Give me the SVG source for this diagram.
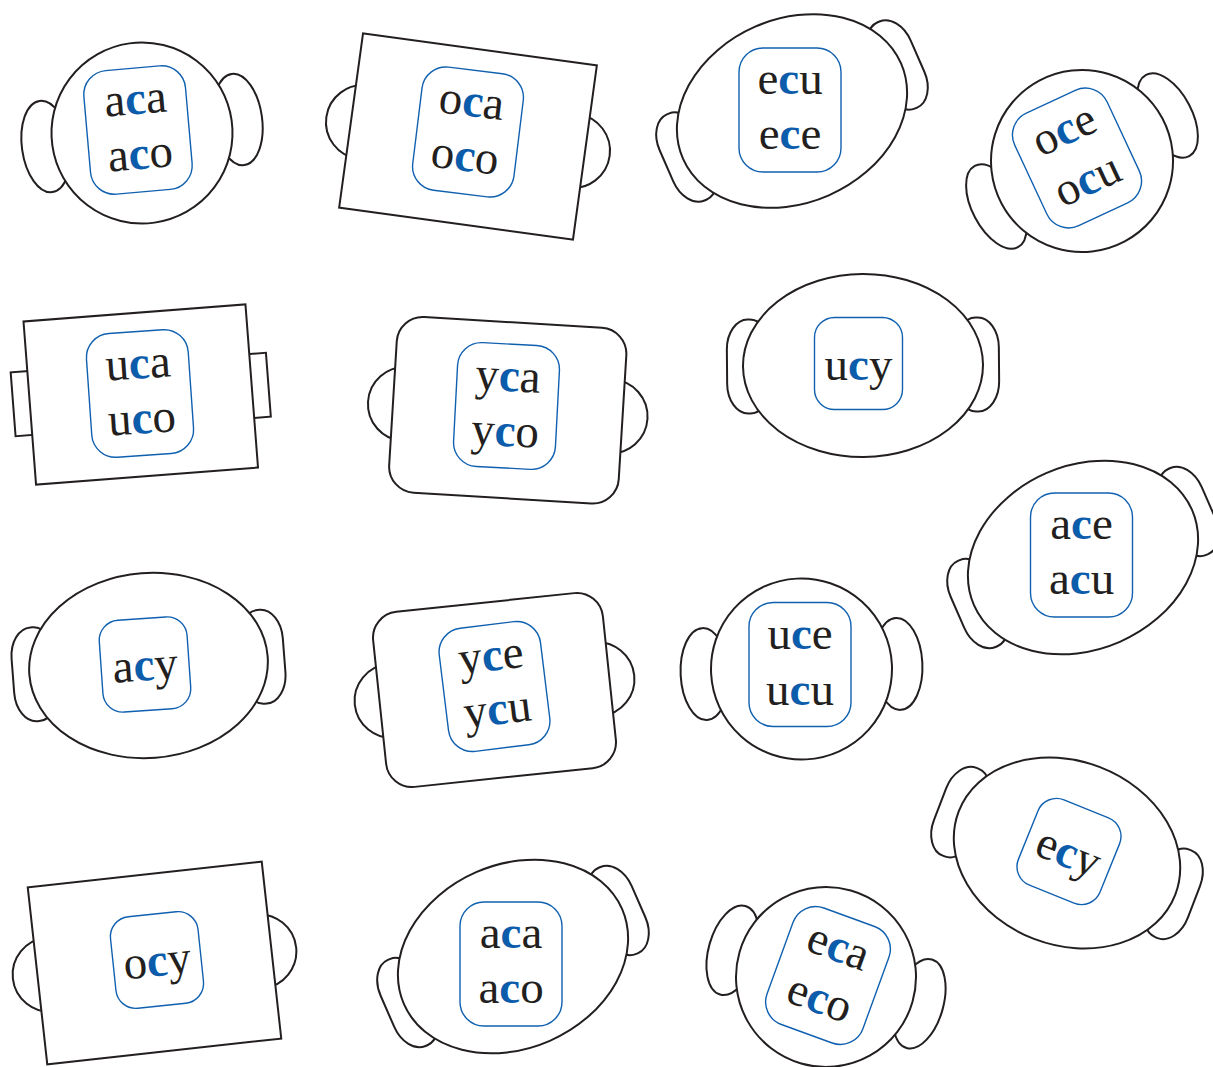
<svg xmlns="http://www.w3.org/2000/svg" width="1213" height="1067" viewBox="0 0 1213 1067">
<style>
.k{fill:#fff;stroke:#231f20;stroke-width:2}
.bx{fill:#fff;stroke:#1060b0;stroke-width:1.4}
.t{font-family:"Liberation Serif","Times New Roman",serif;font-size:47px;fill:#231f20;text-anchor:middle}
.b{fill:#0b5cab;font-weight:bold}
</style>
<defs>
<rect id="box2" class="bx" x="-51" y="-62" width="102" height="124" rx="24"/>
<rect id="box1" class="bx" x="-44" y="-46" width="88" height="92" rx="20"/>
<ellipse id="hc" class="k" cx="0" cy="0" rx="24" ry="46"/>
<rect id="he" class="k" x="-22" y="-47" width="44" height="94" rx="21" ry="30"/>
<circle id="hs" class="k" cx="0" cy="0" r="37"/>
</defs>
<rect width="1213" height="1067" fill="#fff"/>

<g id="table-1">
<g transform="translate(142,133) rotate(-8)">
<use href="#hc" x="-97"/><use href="#hc" x="97"/>
<circle class="k" r="90.5"/>
</g>
<g transform="translate(138,130) rotate(-5)">
<use href="#box2"/>
<text class="t" x="0" y="-16">a<tspan class="b">c</tspan>a</text>
<text class="t" x="0" y="39">a<tspan class="b">c</tspan>o</text>
</g>
</g>

<g id="table-2">
<g transform="translate(468,136.5) rotate(7.8)">
<use href="#hs" x="-106"/><use href="#hs" x="106"/>
<rect class="k" x="-118" y="-88" width="236" height="176"/>
</g>
<g transform="translate(468,132) rotate(7)">
<use href="#box2"/>
<text class="t" x="0" y="-16">o<tspan class="b">c</tspan>a</text>
<text class="t" x="0" y="39">o<tspan class="b">c</tspan>o</text>
</g>
</g>

<g id="table-3">
<g transform="translate(792,111) rotate(-23.6)">
<use href="#he" x="-115"/><use href="#he" x="115"/>
<ellipse class="k" rx="119" ry="92"/>
</g>
<g transform="translate(790,110)">
<use href="#box2"/>
<text class="t" x="0" y="-16">e<tspan class="b">c</tspan>u</text>
<text class="t" x="0" y="39">e<tspan class="b">c</tspan>e</text>
</g>
</g>

<g id="table-4">
<g transform="translate(1082,161) rotate(-28)">
<use href="#hc" x="-97"/><use href="#hc" x="97"/>
<circle class="k" r="91"/>
</g>
<g transform="translate(1077,158) rotate(-25)">
<use href="#box2"/>
<text class="t" x="0" y="-16">o<tspan class="b">c</tspan>e</text>
<text class="t" x="0" y="39">o<tspan class="b">c</tspan>u</text>
</g>
</g>

<g id="table-5">
<g transform="translate(140.75,394.5) rotate(-4.4)">
<rect class="k" x="-128" y="-32" width="30" height="64"/>
<rect class="k" x="98" y="-32" width="30" height="64"/>
<rect class="k" x="-111.3" y="-81.8" width="222.6" height="163.6"/>
</g>
<g transform="translate(140,393.5) rotate(-4)">
<use href="#box2"/>
<text class="t" x="0" y="-15">u<tspan class="b">c</tspan>a</text>
<text class="t" x="0" y="40">u<tspan class="b">c</tspan>o</text>
</g>
</g>

<g id="table-6">
<g transform="translate(507.75,410.25) rotate(3.5)">
<use href="#hs" x="-103"/><use href="#hs" x="103"/>
<rect class="k" x="-115" y="-88" width="230" height="176" rx="26"/>
</g>
<g transform="translate(506.5,406) rotate(3)">
<use href="#box2"/>
<text class="t" x="0" y="-15">y<tspan class="b">c</tspan>a</text>
<text class="t" x="0" y="40">y<tspan class="b">c</tspan>o</text>
</g>
</g>

<g id="table-7">
<g transform="translate(863,365.5) rotate(-0.5)">
<use href="#he" x="-114"/><use href="#he" x="114"/>
<ellipse class="k" rx="120" ry="91.5"/>
</g>
<g transform="translate(858.5,363.5)">
<use href="#box1"/>
<text class="t" x="0" y="16">u<tspan class="b">c</tspan>y</text>
</g>
</g>

<g id="table-8">
<g transform="translate(1083,557.5) rotate(-23.6)">
<use href="#he" x="-115"/><use href="#he" x="115"/>
<ellipse class="k" rx="119" ry="92"/>
</g>
<g transform="translate(1081.5,555)">
<use href="#box2"/>
<text class="t" x="0" y="-16">a<tspan class="b">c</tspan>e</text>
<text class="t" x="0" y="39">a<tspan class="b">c</tspan>u</text>
</g>
</g>

<g id="table-9">
<g transform="translate(148.5,665.5) rotate(-4.4)">
<use href="#he" x="-114"/><use href="#he" x="114"/>
<ellipse class="k" rx="119.5" ry="92.5"/>
</g>
<g transform="translate(145,664.5) rotate(-4)">
<use href="#box1"/>
<text class="t" x="0" y="16">a<tspan class="b">c</tspan>y</text>
</g>
</g>

<g id="table-10">
<g transform="translate(494.5,690) rotate(-6)">
<use href="#hs" x="-103.5"/><use href="#hs" x="103.5"/>
<rect class="k" x="-115.5" y="-88" width="231" height="176" rx="26"/>
</g>
<g transform="translate(494.5,686.5) rotate(-7)">
<use href="#box2"/>
<text class="t" x="0" y="-16">y<tspan class="b">c</tspan>e</text>
<text class="t" x="0" y="38">y<tspan class="b">c</tspan>u</text>
</g>
</g>

<g id="table-11">
<g transform="translate(801.5,669) rotate(-3)">
<use href="#hc" x="-97"/><use href="#hc" x="97"/>
<circle class="k" r="90.5"/>
</g>
<g transform="translate(800,664.5)">
<use href="#box2"/>
<text class="t" x="0" y="-16">u<tspan class="b">c</tspan>e</text>
<text class="t" x="0" y="40">u<tspan class="b">c</tspan>u</text>
</g>
</g>

<g id="table-12">
<g transform="translate(1067,853) rotate(21)">
<use href="#he" x="-114"/><use href="#he" x="114"/>
<ellipse class="k" rx="116" ry="92"/>
</g>
<g transform="translate(1069,851.5) rotate(22)">
<use href="#box1"/>
<text class="t" x="0" y="16">e<tspan class="b">c</tspan>y</text>
</g>
</g>

<g id="table-13">
<g transform="translate(154.5,963) rotate(-6.3)">
<use href="#hs" x="-105.5"/><use href="#hs" x="105.5"/>
<rect class="k" x="-117.7" y="-89" width="235.4" height="178"/>
</g>
<g transform="translate(157,960) rotate(-6)">
<use href="#box1"/>
<text class="t" x="0" y="16">o<tspan class="b">c</tspan>y</text>
</g>
</g>

<g id="table-14">
<g transform="translate(513,956.5) rotate(-23.6)">
<use href="#he" x="-115"/><use href="#he" x="115"/>
<ellipse class="k" rx="119" ry="92"/>
</g>
<g transform="translate(511,964)">
<use href="#box2"/>
<text class="t" x="0" y="-16">a<tspan class="b">c</tspan>a</text>
<text class="t" x="0" y="39">a<tspan class="b">c</tspan>o</text>
</g>
</g>

<g id="table-15">
<g transform="translate(826,977) rotate(16)">
<use href="#hc" x="-97"/><use href="#hc" x="97"/>
<circle class="k" r="90"/>
</g>
<g transform="translate(828,975.5) rotate(20)">
<use href="#box2"/>
<text class="t" x="0" y="-16">e<tspan class="b">c</tspan>a</text>
<text class="t" x="0" y="39">e<tspan class="b">c</tspan>o</text>
</g>
</g>

<g id="connectors"></g>
</svg>
